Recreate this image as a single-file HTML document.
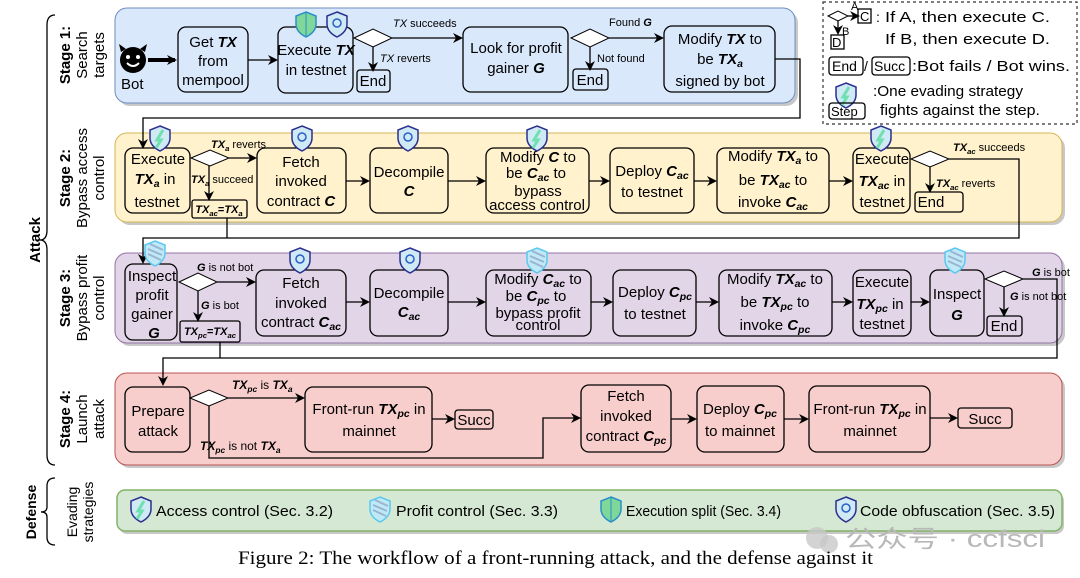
<!DOCTYPE html>
<html><head><meta charset="utf-8"><style>
html,body{margin:0;padding:0;background:#fff;}
svg{display:block;}
text{font-family:"Liberation Sans","Noto Sans CJK SC",sans-serif;fill:#000;}
.n{font-size:15px;text-anchor:middle;}
.l{font-size:11px;}
.b{font-weight:bold;font-style:italic;}
.s{font-weight:bold;font-style:italic;font-size:70%;baseline-shift:-3px;}
.bx{fill:none;stroke:#000;stroke-width:1.3;}
.ln{fill:none;stroke:#000;stroke-width:1.3;}
.st{font-size:15px;text-anchor:middle;}
</style></head><body>
<svg width="1080" height="578" viewBox="0 0 1080 578" xmlns="http://www.w3.org/2000/svg">
<defs>
<marker id="a" markerWidth="10" markerHeight="10" refX="8" refY="5" orient="auto" markerUnits="userSpaceOnUse"><path d="M0,0 L10,5 L0,10 L3,5 Z" fill="#000"/></marker>
<g id="shA"><path d="M10,0 L20,4 L20,12 Q20,20 10,25 Q0,20 0,12 L0,4 Z" fill="#cfe9f5" stroke="#2a2f8f" stroke-width="1.5"/><path d="M13,4 L7,14 L11,14 L6,22" stroke="#6fe0b0" stroke-width="3" fill="none"/></g>
<g id="shP"><path d="M10,0 L20,4 L20,12 Q20,20 10,25 Q0,20 0,12 L0,4 Z" fill="#bfe9f7" stroke="#5cc8ee" stroke-width="1.5"/><path d="M3,8 L17,14 M3,13 L16,19 M5,3 L18,9" stroke="#9bb4d0" stroke-width="2"/></g>
<g id="shE"><path d="M10,0 L20,4 L20,12 Q20,20 10,25 Q0,20 0,12 L0,4 Z" fill="#7fd89a" stroke="#2a8fc8" stroke-width="1.5"/><path d="M10,1 L10,24" stroke="#2a8fc8" stroke-width="1"/></g>
<g id="shC"><path d="M10,0 L20,4 L20,12 Q20,20 10,25 Q0,20 0,12 L0,4 Z" fill="#cfe9f5" stroke="#2a2f8f" stroke-width="1.5"/><circle cx="10" cy="11" r="4" fill="none" stroke="#2a5fc8" stroke-width="1.5"/></g>
</defs>

<!-- Braces -->
<path d="M55,15 Q47,15 47,25 L47,230 Q47,240 40,240 Q47,240 47,250 L47,455 Q47,465 55,465" class="ln"/>
<text transform="translate(40,240) rotate(-90)" style="font-size:15px;font-weight:bold;text-anchor:middle">Attack</text>
<path d="M55,478 Q47,478 47,486 L47,507 Q47,512 41,512 Q47,512 47,517 L47,537 Q47,545 55,545" class="ln"/>
<text transform="translate(36,512) rotate(-90)" style="font-size:14px;font-weight:bold;text-anchor:middle">Defense</text>
<text transform="translate(77,512) rotate(-90)" style="font-size:14px;text-anchor:middle">Evading</text>
<text transform="translate(93,512) rotate(-90)" style="font-size:14px;text-anchor:middle">strategies</text>

<!-- Stage labels -->
<text transform="translate(70,55) rotate(-90)" class="st"><tspan font-weight="bold">Stage 1:</tspan></text>
<text transform="translate(87,55) rotate(-90)" class="st">Search</text>
<text transform="translate(104,55) rotate(-90)" class="st">targets</text>
<text transform="translate(70,178) rotate(-90)" class="st" font-weight="bold">Stage 2:</text>
<text transform="translate(87,178) rotate(-90)" class="st">Bypass access</text>
<text transform="translate(104,178) rotate(-90)" class="st">control</text>
<text transform="translate(70,298) rotate(-90)" class="st" font-weight="bold">Stage 3:</text>
<text transform="translate(87,298) rotate(-90)" class="st">Bypass profit</text>
<text transform="translate(104,298) rotate(-90)" class="st">control</text>
<text transform="translate(70,419) rotate(-90)" class="st" font-weight="bold">Stage 4:</text>
<text transform="translate(87,419) rotate(-90)" class="st">Launch</text>
<text transform="translate(104,419) rotate(-90)" class="st">attack</text>

<!-- Panels -->
<rect x="118" y="11" width="680" height="95" rx="12" fill="#c8c8c8"/>
<rect x="115" y="8" width="680" height="95" rx="12" fill="#dae8fc" stroke="#6c8ebf"/>
<rect x="118" y="136" width="947" height="89" rx="12" fill="#c8c8c8"/>
<rect x="115" y="133" width="947" height="89" rx="12" fill="#fff2cc" stroke="#d6b656"/>
<rect x="118" y="256" width="947" height="90" rx="12" fill="#c8c8c8"/>
<rect x="115" y="253" width="947" height="90" rx="12" fill="#e1d5e7" stroke="#9673a6"/>
<rect x="118" y="376" width="947" height="92" rx="12" fill="#c8c8c8"/>
<rect x="115" y="373" width="947" height="92" rx="12" fill="#f8cecc" stroke="#b85450"/>
<rect x="119" y="493" width="945" height="41" rx="8" fill="#c8c8c8"/>
<rect x="117" y="490" width="945" height="41" rx="8" fill="#d5e8d4" stroke="#82b366" stroke-width="1.5"/>

<!-- Legend -->
<rect x="823" y="2" width="254" height="122" fill="none" stroke="#333" stroke-dasharray="3,3" stroke-width="1.2"/>
<path d="M828,16 L838,11 L848,16 L838,21 Z" fill="#fff" stroke="#000"/>
<line x1="848" y1="16" x2="858" y2="16" class="ln" marker-end="url(#a)"/>
<text x="851" y="10" style="font-size:11px">A</text>
<rect x="858" y="9" width="13" height="14" class="bx"/><text x="860" y="21" style="font-size:13px">C</text>
<line x1="838" y1="21" x2="838" y2="33" class="ln" marker-end="url(#a)"/>
<text x="842" y="35" style="font-size:11px">B</text>
<rect x="831" y="35" width="13" height="14" class="bx"/><text x="832" y="47" style="font-size:13px">D</text>
<text x="876" y="22" style="font-size:14px">:</text>
<text x="885" y="22" style="font-size:15px" textLength="165" lengthAdjust="spacingAndGlyphs">If A, then execute C.</text>
<text x="885" y="44" style="font-size:15px" textLength="165" lengthAdjust="spacingAndGlyphs">If B, then execute D.</text>
<rect x="829" y="57" width="34" height="18" rx="3" class="bx"/><text x="832" y="71" style="font-size:14px">End</text>
<text x="864" y="71" style="font-size:14px">/</text>
<rect x="872" y="57" width="38" height="18" rx="3" class="bx"/><text x="874" y="71" style="font-size:14px">Succ</text>
<text x="912" y="71" style="font-size:15px" textLength="158" lengthAdjust="spacingAndGlyphs">:Bot fails / Bot wins.</text>
<use href="#shA" x="836" y="83"/>
<rect x="829" y="103" width="36" height="16" rx="3" class="bx"/><text x="831" y="116" style="font-size:13px">Step</text>
<text x="873" y="96" style="font-size:15px" textLength="150" lengthAdjust="spacingAndGlyphs">:One evading strategy</text>
<text x="880" y="115" style="font-size:15px" textLength="160" lengthAdjust="spacingAndGlyphs">fights against the step.</text>

<!-- Stage 1 -->
<circle cx="133" cy="60" r="13" fill="#000"/>
<path d="M121,52 L119,44 L126,49 Z M145,52 L147,44 L140,49 Z" fill="#000"/>
<circle cx="128" cy="57" r="2" fill="#fff"/><circle cx="138" cy="57" r="2" fill="#fff"/>
<path d="M127,63 Q133,69 139,63" stroke="#fff" stroke-width="2" fill="none"/>
<text x="121" y="89" style="font-size:15px">Bot</text>
<line x1="148" y1="60" x2="175" y2="60" stroke="#000" stroke-width="4" marker-end="url(#a)"/>
<rect x="178" y="27" width="70" height="65" rx="8" class="bx"/>
<text x="213" y="47" class="n">Get <tspan class="b">TX</tspan></text>
<text x="213" y="66" class="n">from</text>
<text x="213" y="85" class="n">mempool</text>
<line x1="248" y1="60" x2="276" y2="60" class="ln" marker-end="url(#a)"/>
<rect x="278" y="27" width="75" height="66" rx="8" class="bx"/>
<use href="#shE" x="296" y="12"/><use href="#shC" x="327" y="12"/>
<text x="316" y="55" class="n">Execute <tspan class="b">TX</tspan></text>
<text x="316" y="75" class="n">in testnet</text>
<path d="M354,38 L373,29 L392,38 L373,47 Z" fill="#fff" stroke="#000"/>
<line x1="392" y1="38" x2="461" y2="38" class="ln" marker-end="url(#a)"/>
<text x="393" y="27" class="l"><tspan font-style="italic">TX</tspan> succeeds</text>
<line x1="373" y1="47" x2="373" y2="70" class="ln" marker-end="url(#a)"/>
<text x="380" y="62" class="l"><tspan font-style="italic">TX</tspan> reverts</text>
<rect x="357" y="70" width="33" height="22" rx="3" class="bx"/><text x="373" y="86" class="n">End</text>
<rect x="463" y="27" width="105" height="65" rx="8" class="bx"/>
<text x="516" y="53" class="n">Look for profit</text>
<text x="516" y="73" class="n">gainer <tspan class="b">G</tspan></text>
<path d="M571,38 L590,29 L609,38 L590,47 Z" fill="#fff" stroke="#000"/>
<line x1="609" y1="38" x2="662" y2="38" class="ln" marker-end="url(#a)"/>
<text x="609" y="26" class="l">Found <tspan class="b">G</tspan></text>
<line x1="590" y1="47" x2="590" y2="69" class="ln" marker-end="url(#a)"/>
<text x="597" y="62" class="l">Not found</text>
<rect x="573" y="69" width="35" height="21" rx="3" class="bx"/><text x="590" y="85" class="n">End</text>
<rect x="664" y="26" width="111" height="66" rx="8" class="bx"/>
<text x="720" y="44" class="n">Modify <tspan class="b">TX</tspan> to</text>
<text x="720" y="64" class="n">be <tspan class="b">TX</tspan><tspan class="s">a</tspan></text>
<text x="720" y="86" class="n">signed by bot</text>
<polyline points="775,59 800,59 800,118 143,118 143,147" class="ln" marker-end="url(#a)"/>

<!-- Stage 2 -->
<rect x="125" y="148" width="65" height="65" rx="8" class="bx"/>
<use href="#shA" x="150" y="126"/>
<text x="158" y="164" class="n">Execute</text>
<text x="155" y="184" class="n"><tspan class="b">TX</tspan><tspan class="s">a</tspan> in</text>
<text x="157" y="207" class="n">testnet</text>
<path d="M191,158 L210,150 L229,158 L210,166 Z" fill="#fff" stroke="#000"/>
<line x1="229" y1="158" x2="255" y2="158" class="ln" marker-end="url(#a)"/>
<text x="211" y="148" class="l"><tspan class="b">TX</tspan><tspan class="s">a</tspan> reverts</text>
<line x1="209" y1="166" x2="209" y2="199" class="ln" marker-end="url(#a)"/>
<text x="191" y="183" class="l"><tspan class="b">TX</tspan><tspan class="s">a</tspan> succeed</text>
<rect x="192" y="200" width="55" height="18" rx="2" class="bx"/>
<text x="219" y="213" style="font-size:11px;text-anchor:middle"><tspan class="b">TX</tspan><tspan class="s">ac</tspan><tspan font-weight="bold">=</tspan><tspan class="b">TX</tspan><tspan class="s">a</tspan></text>
<rect x="257" y="148" width="89" height="65" rx="8" class="bx"/>
<use href="#shC" x="292" y="126"/>
<text x="301" y="167" class="n">Fetch</text>
<text x="301" y="186" class="n">invoked</text>
<text x="301" y="206" class="n">contract <tspan class="b">C</tspan></text>
<line x1="346" y1="181" x2="368" y2="181" class="ln" marker-end="url(#a)"/>
<rect x="370" y="148" width="78" height="65" rx="8" class="bx"/>
<use href="#shC" x="398" y="126"/>
<text x="409" y="177" class="n">Decompile</text>
<text x="409" y="196" class="n"><tspan class="b">C</tspan></text>
<line x1="448" y1="181" x2="484" y2="181" class="ln" marker-end="url(#a)"/>
<rect x="486" y="148" width="103" height="65" rx="8" class="bx"/>
<use href="#shA" x="527" y="126"/>
<text x="538" y="162" class="n">Modify <tspan class="b">C</tspan> to</text>
<text x="536" y="178" class="n">be <tspan class="b">C</tspan><tspan class="s">ac</tspan> to</text>
<text x="538" y="196" class="n">bypass</text>
<text x="537" y="210" class="n">access control</text>
<line x1="589" y1="181" x2="608" y2="181" class="ln" marker-end="url(#a)"/>
<rect x="610" y="148" width="84" height="65" rx="8" class="bx"/>
<text x="652" y="176" class="n">Deploy <tspan class="b">C</tspan><tspan class="s">ac</tspan></text>
<text x="652" y="197" class="n">to testnet</text>
<line x1="694" y1="181" x2="715" y2="181" class="ln" marker-end="url(#a)"/>
<rect x="717" y="148" width="112" height="65" rx="8" class="bx"/>
<text x="773" y="161" class="n">Modify <tspan class="b">TX</tspan><tspan class="s">a</tspan> to</text>
<text x="773" y="185" class="n">be <tspan class="b">TX</tspan><tspan class="s">ac</tspan> to</text>
<text x="773" y="207" class="n">invoke <tspan class="b">C</tspan><tspan class="s">ac</tspan></text>
<line x1="829" y1="181" x2="851" y2="181" class="ln" marker-end="url(#a)"/>
<rect x="853" y="148" width="57" height="65" rx="8" class="bx"/>
<use href="#shA" x="871" y="126"/>
<text x="882" y="164" class="n">Execute</text>
<text x="882" y="186" class="n"><tspan class="b">TX</tspan><tspan class="s">ac</tspan> in</text>
<text x="882" y="207" class="n">testnet</text>
<path d="M911,159 L930,151 L949,159 L930,167 Z" fill="#fff" stroke="#000"/>
<polyline points="949,159 1019,159 1019,238 143,238 143,262" class="ln" marker-end="url(#a)"/>
<line x1="227" y1="218" x2="227" y2="238" class="ln"/>
<text x="953" y="151" class="l"><tspan class="b">TX</tspan><tspan class="s">ac</tspan> succeeds</text>
<line x1="930" y1="167" x2="930" y2="191" class="ln" marker-end="url(#a)"/>
<text x="936" y="187" class="l"><tspan class="b">TX</tspan><tspan class="s">ac</tspan> reverts</text>
<rect x="915" y="192" width="48" height="20" rx="3" class="bx"/><text x="931" y="207" class="n">End</text>

<!-- Stage 3 -->
<rect x="125" y="264" width="52" height="76" rx="8" class="bx"/>
<use href="#shP" x="145" y="241"/>
<text x="152" y="281" class="n">Inspect</text>
<text x="152" y="300" class="n">profit</text>
<text x="152" y="319" class="n">gainer</text>
<text x="154" y="338" class="n"><tspan class="b">G</tspan></text>
<path d="M179,282 L198,273 L217,282 L198,291 Z" fill="#fff" stroke="#000"/>
<line x1="217" y1="282" x2="254" y2="282" class="ln" marker-end="url(#a)"/>
<text x="197" y="271" class="l"><tspan class="b">G</tspan> is not bot</text>
<line x1="198" y1="291" x2="198" y2="320" class="ln" marker-end="url(#a)"/>
<text x="201" y="309" class="l"><tspan class="b">G</tspan> is bot</text>
<rect x="180" y="321" width="60" height="21" rx="2" class="bx"/>
<text x="210" y="335" style="font-size:11px;text-anchor:middle"><tspan class="b">TX</tspan><tspan class="s">pc</tspan><tspan font-weight="bold">=</tspan><tspan class="b">TX</tspan><tspan class="s">ac</tspan></text>
<rect x="256" y="270" width="90" height="66" rx="8" class="bx"/>
<use href="#shC" x="290" y="248"/>
<text x="301" y="288" class="n">Fetch</text>
<text x="301" y="308" class="n">invoked</text>
<text x="301" y="327" class="n">contract <tspan class="b">C</tspan><tspan class="s">ac</tspan></text>
<line x1="346" y1="302" x2="368" y2="302" class="ln" marker-end="url(#a)"/>
<rect x="370" y="270" width="78" height="66" rx="8" class="bx"/>
<use href="#shC" x="400" y="248"/>
<text x="409" y="298" class="n">Decompile</text>
<text x="409" y="317" class="n"><tspan class="b">C</tspan><tspan class="s">ac</tspan></text>
<line x1="448" y1="302" x2="484" y2="302" class="ln" marker-end="url(#a)"/>
<rect x="486" y="270" width="105" height="66" rx="8" class="bx"/>
<use href="#shP" x="527" y="248"/>
<text x="538" y="284" class="n">Modify <tspan class="b">C</tspan><tspan class="s">ac</tspan> to</text>
<text x="536" y="301" class="n">be <tspan class="b">C</tspan><tspan class="s">pc</tspan> to</text>
<text x="538" y="318" class="n">bypass profit</text>
<text x="538" y="330" class="n">control</text>
<line x1="591" y1="302" x2="611" y2="302" class="ln" marker-end="url(#a)"/>
<rect x="613" y="270" width="83" height="66" rx="8" class="bx"/>
<text x="655" y="297" class="n">Deploy <tspan class="b">C</tspan><tspan class="s">pc</tspan></text>
<text x="655" y="319" class="n">to testnet</text>
<line x1="696" y1="302" x2="717" y2="302" class="ln" marker-end="url(#a)"/>
<rect x="719" y="270" width="113" height="66" rx="8" class="bx"/>
<text x="775" y="284" class="n">Modify <tspan class="b">TX</tspan><tspan class="s">ac</tspan> to</text>
<text x="775" y="307" class="n">be <tspan class="b">TX</tspan><tspan class="s">pc</tspan> to</text>
<text x="775" y="330" class="n">invoke <tspan class="b">C</tspan><tspan class="s">pc</tspan></text>
<line x1="832" y1="302" x2="851" y2="302" class="ln" marker-end="url(#a)"/>
<rect x="853" y="270" width="58" height="66" rx="8" class="bx"/>
<text x="882" y="287" class="n">Execute</text>
<text x="880" y="309" class="n"><tspan class="b">TX</tspan><tspan class="s">pc</tspan> in</text>
<text x="882" y="329" class="n">testnet</text>
<line x1="911" y1="302" x2="928" y2="302" class="ln" marker-end="url(#a)"/>
<rect x="930" y="270" width="54" height="66" rx="8" class="bx"/>
<use href="#shP" x="945" y="248"/>
<text x="957" y="299" class="n">Inspect</text>
<text x="957" y="320" class="n"><tspan class="b">G</tspan></text>
<path d="M985,279 L1004,271 L1023,279 L1004,287 Z" fill="#fff" stroke="#000"/>
<polyline points="1023,279 1057,279 1057,358 163,358 163,384" class="ln" marker-end="url(#a)"/>
<line x1="220" y1="342" x2="220" y2="358" class="ln"/>
<text x="1032" y="276" class="l"><tspan class="b">G</tspan> is bot</text>
<line x1="1004" y1="287" x2="1004" y2="315" class="ln" marker-end="url(#a)"/>
<text x="1010" y="300" class="l"><tspan class="b">G</tspan> is not bot</text>
<rect x="987" y="316" width="35" height="20" rx="3" class="bx"/><text x="1004" y="331" class="n">End</text>

<!-- Stage 4 -->
<rect x="125" y="387" width="65" height="65" rx="8" class="bx"/>
<text x="158" y="416" class="n">Prepare</text>
<text x="158" y="436" class="n">attack</text>
<path d="M190,398 L209,390 L228,398 L209,406 Z" fill="#fff" stroke="#000"/>
<line x1="228" y1="398" x2="303" y2="398" class="ln" marker-end="url(#a)"/>
<text x="232" y="389" class="l" style="font-size:12px"><tspan class="b">TX</tspan><tspan class="s">pc</tspan> is <tspan class="b">TX</tspan><tspan class="s">a</tspan></text>
<polyline points="209,406 209,458 543,458 543,418 579,418" class="ln" marker-end="url(#a)"/>
<text x="200" y="450" class="l" style="font-size:12px"><tspan class="b">TX</tspan><tspan class="s">pc</tspan> is not <tspan class="b">TX</tspan><tspan class="s">a</tspan></text>
<rect x="305" y="387" width="127" height="65" rx="8" class="bx"/>
<text x="369" y="414" class="n">Front-run <tspan class="b">TX</tspan><tspan class="s">pc</tspan> in</text>
<text x="369" y="436" class="n">mainnet</text>
<line x1="432" y1="419" x2="453" y2="419" class="ln" marker-end="url(#a)"/>
<rect x="455" y="410" width="38" height="19" rx="3" class="bx"/><text x="474" y="425" class="n">Succ</text>
<rect x="581" y="385" width="90" height="67" rx="8" class="bx"/>
<text x="626" y="401" class="n">Fetch</text>
<text x="626" y="421" class="n">invoked</text>
<text x="626" y="441" class="n">contract <tspan class="b">C</tspan><tspan class="s">pc</tspan></text>
<line x1="671" y1="419" x2="695" y2="419" class="ln" marker-end="url(#a)"/>
<rect x="697" y="386" width="87" height="66" rx="8" class="bx"/>
<text x="740" y="414" class="n">Deploy <tspan class="b">C</tspan><tspan class="s">pc</tspan></text>
<text x="740" y="436" class="n">to mainnet</text>
<line x1="784" y1="419" x2="807" y2="419" class="ln" marker-end="url(#a)"/>
<rect x="809" y="386" width="121" height="66" rx="8" class="bx"/>
<text x="870" y="414" class="n">Front-run <tspan class="b">TX</tspan><tspan class="s">pc</tspan> in</text>
<text x="870" y="436" class="n">mainnet</text>
<line x1="930" y1="418" x2="956" y2="418" class="ln" marker-end="url(#a)"/>
<rect x="958" y="408" width="54" height="20" rx="3" class="bx"/><text x="985" y="424" class="n">Succ</text>

<!-- Defense -->
<use href="#shA" x="131" y="497"/>
<text x="156" y="516" style="font-size:15px" textLength="177" lengthAdjust="spacingAndGlyphs">Access control (Sec. 3.2)</text>
<use href="#shP" x="370" y="497"/>
<text x="396" y="516" style="font-size:15px" textLength="162" lengthAdjust="spacingAndGlyphs">Profit control (Sec. 3.3)</text>
<use href="#shE" x="601" y="497"/>
<text x="626" y="516" style="font-size:15px" textLength="155" lengthAdjust="spacingAndGlyphs">Execution split (Sec. 3.4)</text>
<use href="#shC" x="836" y="497"/>
<text x="860" y="516" style="font-size:15px" textLength="195" lengthAdjust="spacingAndGlyphs">Code obfuscation (Sec. 3.5)</text>

<!-- Watermark -->
<circle cx="817" cy="538" r="11" fill="#c8c8c8" opacity="0.8"/>
<circle cx="829" cy="544" r="9" fill="#c8c8c8" opacity="0.8"/>
<text x="845" y="547" style="font-size:24px;fill:#b8b8b8" textLength="200" lengthAdjust="spacingAndGlyphs">公众号 · ccfsci</text>

<!-- Caption -->
<text x="238" y="564" style="font-family:'Liberation Serif',serif;font-size:19px" textLength="635" lengthAdjust="spacingAndGlyphs">Figure 2: The workflow of a front-running attack, and the defense against it</text>
</svg>
</body></html>
